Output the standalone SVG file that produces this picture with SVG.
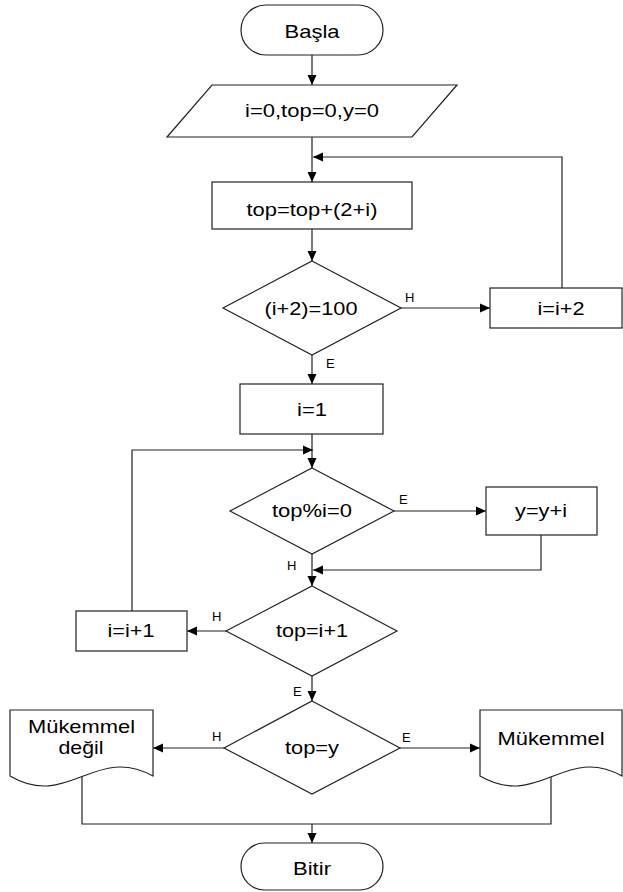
<svg xmlns="http://www.w3.org/2000/svg" width="623" height="892" viewBox="0 0 623 892">
<style>
.s{fill:#fff;stroke:#222;stroke-width:1.2}
.c{fill:none;stroke:#222;stroke-width:1.2}
.t{font-family:"Liberation Sans",Arial,sans-serif;font-size:18.5px;fill:#000;text-anchor:middle}
.l{font-family:"Liberation Sans",Arial,sans-serif;font-size:13px;fill:#000}
</style>
<defs>
<marker id="a" markerWidth="10" markerHeight="10" refX="10" refY="5" orient="auto" markerUnits="userSpaceOnUse">
<path d="M0,0.5 L10,5 L0,9.5 Z" fill="#000"/>
</marker>
</defs>
<rect width="623" height="892" fill="#fff"/>
<g id="connectors">
<path class="c" d="M312,55 V85" marker-end="url(#a)"/>
<path class="c" d="M312,137 V182" marker-end="url(#a)"/>
<path class="c" d="M562,288 V157 H313" marker-end="url(#a)"/>
<path class="c" d="M312,229 V261" marker-end="url(#a)"/>
<path class="c" d="M401,308 H490" marker-end="url(#a)"/>
<path class="c" d="M312,355 V384" marker-end="url(#a)"/>
<path class="c" d="M312,434 V468" marker-end="url(#a)"/>
<path class="c" d="M132,611 V450 H313" marker-end="url(#a)"/>
<path class="c" d="M394,511 H486" marker-end="url(#a)"/>
<path class="c" d="M541,535 V570 H313" marker-end="url(#a)"/>
<path class="c" d="M312,554 V586" marker-end="url(#a)"/>
<path class="c" d="M226,631 H187" marker-end="url(#a)"/>
<path class="c" d="M312,676 V701" marker-end="url(#a)"/>
<path class="c" d="M224,748 H153" marker-end="url(#a)"/>
<path class="c" d="M400,748 H480" marker-end="url(#a)"/>
<path class="c" d="M82,777 V824 H551 V776"/>
<path class="c" d="M312,824 V843" marker-end="url(#a)"/>
<text class="l" x="405" y="302">H</text>
<text class="l" x="326" y="368">E</text>
<text class="l" x="399" y="504">E</text>
<text class="l" x="287" y="570">H</text>
<text class="l" x="212" y="621">H</text>
<text class="l" x="293" y="696">E</text>
<text class="l" x="212" y="741">H</text>
<text class="l" x="402" y="742">E</text>
</g>
<g id="basla">
<rect class="s" x="241" y="5" width="142" height="50" rx="25" ry="25"/>
<text class="t" x="312" y="37.5" textLength="55" lengthAdjust="spacingAndGlyphs">Başla</text>
</g>
<g id="input">
<path class="s" d="M212,85 H457 L412,137 H167 Z"/>
<text class="t" x="312" y="117" textLength="134" lengthAdjust="spacingAndGlyphs">i=0,top=0,y=0</text>
</g>
<g id="sum">
<rect class="s" x="212" y="182" width="200" height="47"/>
<text class="t" x="312" y="215.5" textLength="131" lengthAdjust="spacingAndGlyphs">top=top+(2+i)</text>
</g>
<g id="cond1">
<path class="s" d="M312,261 L401,308 L312,355 L223,308 Z"/>
<text class="t" x="311" y="314.5" textLength="93" lengthAdjust="spacingAndGlyphs">(i+2)=100</text>
</g>
<g id="inc2">
<rect class="s" x="490" y="288" width="132" height="40"/>
<text class="t" x="561" y="314.5" textLength="47" lengthAdjust="spacingAndGlyphs">i=i+2</text>
</g>
<g id="init1">
<rect class="s" x="240" y="384" width="143" height="50"/>
<text class="t" x="312" y="416" textLength="30" lengthAdjust="spacingAndGlyphs">i=1</text>
</g>
<g id="cond2">
<path class="s" d="M312,468 L394,511 L312,554 L230,511 Z"/>
<text class="t" x="312" y="516.7" textLength="80" lengthAdjust="spacingAndGlyphs">top%i=0</text>
</g>
<g id="addy">
<rect class="s" x="486" y="487" width="111" height="48"/>
<text class="t" x="541" y="516.7" textLength="52" lengthAdjust="spacingAndGlyphs">y=y+i</text>
</g>
<g id="cond3">
<path class="s" d="M312,586 L397,631 L312,676 L226,631 Z"/>
<text class="t" x="312" y="637" textLength="72" lengthAdjust="spacingAndGlyphs">top=i+1</text>
</g>
<g id="inc1">
<rect class="s" x="76" y="611" width="111" height="40"/>
<text class="t" x="131" y="637" textLength="47" lengthAdjust="spacingAndGlyphs">i=i+1</text>
</g>
<g id="cond4">
<path class="s" d="M312,701 L400,748 L312,794 L224,748 Z"/>
<text class="t" x="312" y="754" textLength="54" lengthAdjust="spacingAndGlyphs">top=y</text>
</g>
<g id="notperfect">
<path class="s" d="M10,710 H153 V776 C95,744 68,810 10,776 Z"/>
<text class="t" x="81.5" y="732.7" textLength="107" lengthAdjust="spacingAndGlyphs">Mükemmel</text>
<text class="t" x="81" y="754" textLength="45" lengthAdjust="spacingAndGlyphs">değil</text>
</g>
<g id="perfect">
<path class="s" d="M480,710 H622 V776 C565,744 538,810 480,776 Z"/>
<text class="t" x="551" y="744.5" textLength="107" lengthAdjust="spacingAndGlyphs">Mükemmel</text>
</g>
<g id="bitir">
<rect class="s" x="241" y="843" width="142" height="47" rx="23.5" ry="23.5"/>
<text class="t" x="312" y="875" textLength="38" lengthAdjust="spacingAndGlyphs">Bitir</text>
</g>
</svg>
